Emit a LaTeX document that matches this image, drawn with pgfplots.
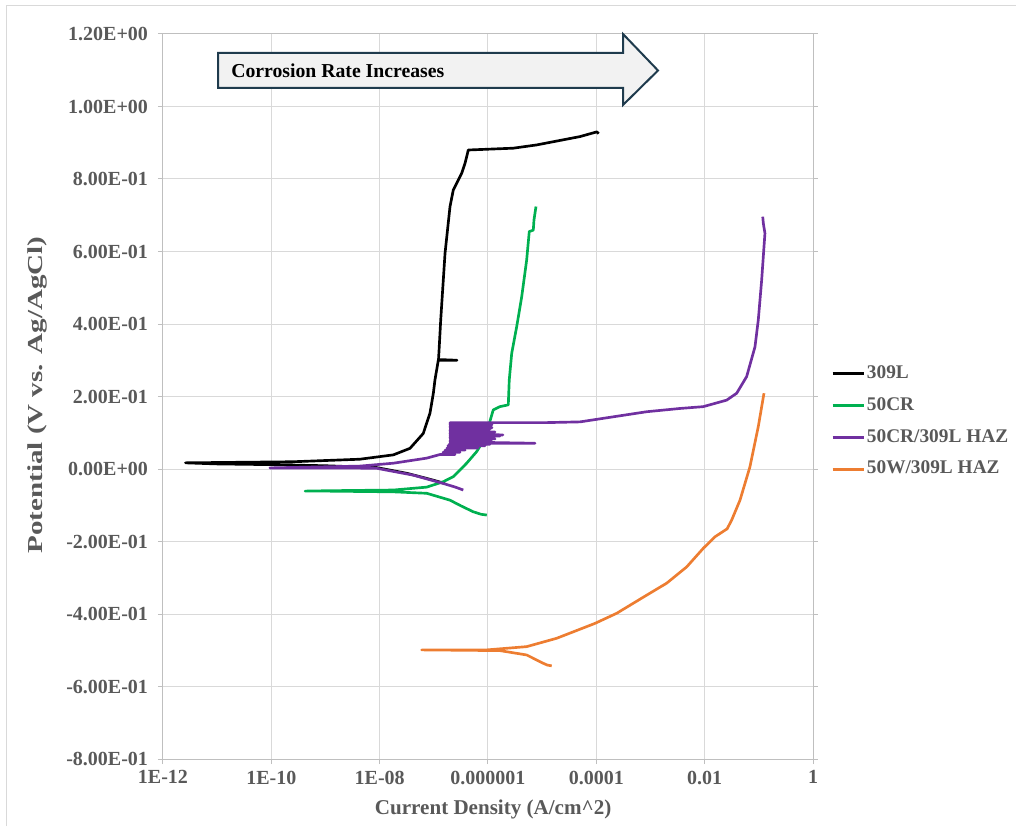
\documentclass[border=0pt]{standalone}
\usepackage{fontspec}
\setmainfont{Liberation Serif}
\usepackage{pgfplots}
\pgfplotsset{compat=1.18}
\definecolor{txt}{HTML}{595959}
\definecolor{grd}{HTML}{D9D9D9}
\definecolor{axl}{HTML}{BFBFBF}
\definecolor{cgreen}{HTML}{00B050}
\definecolor{cpur}{HTML}{7030A0}
\definecolor{corg}{HTML}{ED7D31}
\definecolor{arrowline}{HTML}{1F3B4D}
\definecolor{arrowfill}{HTML}{F2F2F2}
\begin{document}
\begin{tikzpicture}
\path[use as bounding box] (-122.25pt,-50.25pt) rectangle (639.75pt,569.25pt);
\draw[gray!30, line width=0.75pt] (-117pt,-50.25pt) -- (-117pt,564.75pt) -- (639.75pt,564.75pt);
\begin{axis}[
  scale only axis, width=487.5pt, height=543.75pt,
  at={(0pt,0pt)}, anchor=south west,
  xmode=log, xmin=1e-12, xmax=1, ymin=-0.8, ymax=1.2,
  xtick={1e-12,1e-10,1e-8,1e-6,1e-4,1e-2,1},
  xticklabels={1E-12,1E-10,1E-08,0.000001,0.0001,0.01,1},
  xminorticks=false,
  ytick={-0.8,-0.6,-0.4,-0.2,0,0.2,0.4,0.6,0.8,1.0,1.2},
  yticklabels={-8.00E-01,-6.00E-01,-4.00E-01,-2.00E-01,0.00E+00,2.00E-01,4.00E-01,6.00E-01,8.00E-01,1.00E+00,1.20E+00},
  grid=major, major grid style={grd, line width=0.75pt},
  axis line style={axl, line width=0.75pt},
  tick align=outside, major tick length=3.75pt, tick style={axl, line width=0.75pt},
  xtick pos=bottom, ytick pos=both, yticklabel pos=left,
  ticklabel style={font=\fontsize{15}{17}\selectfont\bfseries, text=txt},
  yticklabel style={xshift=-4pt},
  xticklabel style={yshift=-1.5pt},
  xlabel={Current Density (A/cm\textasciicircum 2)},
  xlabel style={at={(axis description cs:0.508,-0.0690)}, anchor=center, font=\fontsize{15.8}{18}\selectfont\bfseries, text=txt},
  ylabel={\scalebox{1.36}[1]{Potential (V vs. Ag/AgCl)}},
  ylabel style={at={(axis description cs:-0.1938,0.502)}, anchor=center, font=\fontsize{16}{18}\selectfont\bfseries, text=txt},
  legend style={at={(axis description cs:1.0277,0.4655)}, anchor=west, draw=none, fill=none,
    inner xsep=0pt, inner ysep=0pt, font=\fontsize{14.5}{16}\selectfont\bfseries, text=txt,
    row sep=10.9pt, nodes={inner xsep=1.5pt, inner ysep=0pt, text height=10pt, text depth=3pt}},
  legend cell align=left,
  legend image code/.code={\draw[#1] (0pt,0pt) -- (23.25pt,0pt);},
  every axis plot/.append style={line width=2pt, line join=round},
]
% 309L
\addplot[black, no markers] coordinates {
(1.6e-7,-0.040) (1.1e-7,-0.033) (7.4e-8,-0.026) (3.2e-8,-0.012) (8.8e-9,0.004) (1e-9,0.009)
(1e-10,0.012) (1e-11,0.014) (2.6e-12,0.017) (2.5e-10,0.020) (4.3e-9,0.027) (1.79e-8,0.039)
(3.63e-8,0.057) (6.38e-8,0.098) (8.49e-8,0.154) (9.8e-8,0.209) (1.05e-7,0.246) (1.21e-7,0.300)
(2.67e-7,0.300) (1.22e-7,0.302) (1.24e-7,0.319) (1.34e-7,0.411) (1.61e-7,0.595) (1.99e-7,0.724)
(2.29e-7,0.770) (3.27e-7,0.816) (3.76e-7,0.843) (4.33e-7,0.880) (2.93e-6,0.885) (7.92e-6,0.894)
(4.99e-5,0.917) (1.02e-4,0.930) (1.1e-4,0.925)
};
\addlegendentry{309L}
% 50CR
\addplot[cgreen, no markers] coordinates {
(9.5e-7,-0.127) (7.5e-7,-0.125) (5.35e-7,-0.118) (3.2e-7,-0.102) (1.99e-7,-0.086) (7.4e-8,-0.067)
(1.79e-8,-0.063) (1e-9,-0.061) (4.2e-10,-0.061) (1e-9,-0.060) (1.79e-8,-0.058) (7.4e-8,-0.050)
(1.5e-7,-0.035) (2.29e-7,-0.021) (4.04e-7,0.016) (6.18e-7,0.048) (8.8e-7,0.085) (1.25e-6,0.163)
(1.66e-6,0.172) (2.37e-6,0.177) (2.47e-6,0.246) (2.74e-6,0.319) (3.39e-6,0.393) (4.19e-6,0.475)
(5.18e-6,0.577) (5.78e-6,0.655) (6.86e-6,0.659) (7.06e-6,0.687) (7.69e-6,0.724)
};
\addlegendentry{50CR}
% 50CR/309L HAZ
\addplot[cpur, no markers] coordinates {
(3.5e-7,-0.058) (2.5e-7,-0.050) (1.5e-7,-0.040) (4.18e-8,-0.017) (8.8e-9,0.002) (1e-9,0.003)
(9.4e-11,0.003) (4.3e-9,0.008) (1.79e-8,0.016) (7.4e-8,0.030)
(1.30e-7,0.040) (2.46e-7,0.040) (1.48e-7,0.046) (3.04e-7,0.046) (1.61e-7,0.052) (3.76e-7,0.052)
(1.75e-7,0.058) (6.53e-7,0.058) (1.82e-7,0.064) (8.8e-7,0.064) (1.91e-7,0.068) (1.09e-6,0.068)
(1.99e-7,0.071) (7.37e-6,0.071) (1.99e-7,0.075) (1.19e-6,0.075) (1.99e-7,0.079) (1.0e-6,0.079)
(1.99e-7,0.083) (1.35e-6,0.083) (1.99e-7,0.087) (1.09e-6,0.087) (1.99e-7,0.091) (1.66e-6,0.091)
(1.99e-7,0.094) (1.89e-6,0.094) (1.99e-7,0.098) (1.19e-6,0.098) (1.99e-7,0.102) (1.35e-6,0.102)
(1.99e-7,0.106) (1.0e-6,0.106) (1.99e-7,0.110) (1.09e-6,0.110) (1.99e-7,0.114) (1.19e-6,0.114)
(1.99e-7,0.118) (1.09e-6,0.118) (1.99e-7,0.122) (1.19e-6,0.122) (1.99e-7,0.126) (1.09e-6,0.126)
(1.99e-7,0.128) (1.21e-5,0.128) (5.0e-5,0.130) (2.06e-4,0.144) (8.5e-4,0.158) (3.5e-3,0.167)
(9.4e-3,0.172) (2.55e-2,0.190) (3.9e-2,0.209) (5.96e-2,0.255) (8.49e-2,0.337) (9.77e-2,0.411)
(0.1128,0.521) (0.1245,0.613) (0.1297,0.650) (0.121,0.678) (0.118,0.696)
};
\addlegendentry{50CR/309L HAZ}
% 50W/309L HAZ
\addplot[corg, no markers] coordinates {
(1.5e-5,-0.543) (1.25e-5,-0.541) (1.05e-5,-0.536) (5.18e-6,-0.513) (1.66e-6,-0.501) (5.97e-8,-0.499)
(9.5e-7,-0.499) (5.18e-6,-0.490) (1.85e-5,-0.467) (9.4e-5,-0.426) (2.38e-4,-0.398) (8.5e-4,-0.348)
(1.99e-3,-0.315) (4.66e-3,-0.270) (9.4e-3,-0.219) (1.55e-2,-0.187) (2.6e-2,-0.165) (3.15e-2,-0.141)
(4.49e-2,-0.086) (6.85e-2,0.006) (9.77e-2,0.117) (0.1245,0.209)
};
\addlegendentry{50W/309L HAZ}
\end{axis}
% arrow
\draw[arrowline, fill=arrowfill, line width=1.5pt, line join=miter]
  (41.25pt,529.5pt) -- (345pt,529.5pt) -- (345pt,543.75pt) -- (371.25pt,516.375pt)
  -- (345pt,490.5pt) -- (345pt,503.25pt) -- (41.25pt,503.25pt) -- cycle;
\node[anchor=west, inner sep=0pt, font=\fontsize{14.8}{17}\selectfont\bfseries, text=black]
  at (51pt,516.4pt) {Corrosion Rate Increases};
\end{tikzpicture}
\end{document}
